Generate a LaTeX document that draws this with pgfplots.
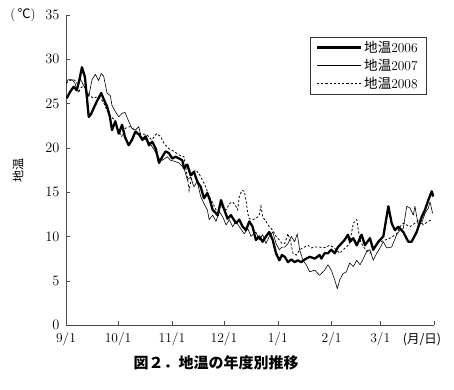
\documentclass[border=0pt]{standalone}
\usepackage{fontspec}
\usepackage{pgfplots}
\pgfplotsset{compat=1.18}
\newfontfamily\cjk{Noto Sans CJK JP}
\begin{document}
\begin{tikzpicture}
\begin{axis}[
  scale only axis, width=368pt, height=310pt,
  at={(0pt,0pt)}, anchor=south west,
  xmin=0, xmax=212, ymin=0, ymax=35,
  axis x line*=bottom, axis y line*=left,
  axis line style={-, black!70},
  tick align=inside, major tick length=4pt,
  tick style={black!70},
  xtick={0,30,61,91,122,153,181,212},
  xticklabels={9/1,10/1,11/1,12/1,1/1,2/1,3/1,},
  ytick={0,5,...,35},
  ticklabel style={font=\fontsize{13.5}{15}\selectfont},
  yticklabel style={xshift=-3pt},
  xticklabel style={yshift=-3.5pt},
  legend style={at={(0.978,0.929)}, anchor=north east, draw=black!80,
     font=\fontsize{13.5}{15}\selectfont, row sep=1pt,
     inner xsep=6pt, inner ysep=2pt},
  legend cell align=left,
  legend image code/.code={\draw[#1] (0pt,0pt) -- (44pt,0pt);},
]
\addplot[black, line width=2.3pt, line join=round] coordinates {
(0.4,25.6)(2.3,26.3)(4.4,26.9)(6.2,26.5)(7.5,27.5)(9.2,29.1)(10.9,28.0)(13.1,23.5)(14.4,23.8)(16.0,24.5)(17.9,25.3)(20.3,26.2)(21.9,25.4)(23.6,24.7)(25.3,23.5)(26.5,22.0)(28.4,23.0)(30.4,21.6)(32.3,22.6)(34.0,21.2)(36.1,20.3)(38.0,20.9)(39.9,21.8)(42.1,21.5)(44.0,20.9)(45.9,21.3)(47.8,20.3)(49.7,20.7)(51.7,19.9)(53.6,18.3)(55.5,19.0)(57.4,19.6)(59.3,19.4)(61.2,18.8)(63.2,19.0)(65.1,18.8)(67.0,18.6)(68.0,17.7)(69.9,18.1)(71.8,16.9)(73.7,17.3)(75.6,16.2)(77.6,15.6)(79.5,14.3)(81.4,14.9)(82.9,14.1)(84.5,13.0)(87.4,12.4)(89.3,14.1)(91.2,13.0)(93.1,12.0)(95.0,12.4)(97.9,11.5)(99.8,11.9)(101.8,11.1)(103.7,10.7)(105.6,11.7)(107.5,11.1)(109.4,9.6)(111.3,10.0)(113.3,9.4)(115.2,10.0)(117.1,10.5)(119.1,9.6)(121.0,8.1)(122.9,7.3)(124.4,7.9)(126.0,7.7)(127.9,7.1)(129.8,7.4)(131.7,7.1)(133.6,7.3)(135.5,7.1)(138.4,7.5)(140.4,7.7)(143.3,7.5)(146.1,7.9)(147.1,7.5)(149.0,8.1)(150.9,8.1)(152.8,8.5)(154.8,8.1)(156.7,8.8)(158.6,9.2)(160.5,9.6)(162.4,10.2)(163.6,9.4)(165.5,9.8)(167.5,9.0)(170.3,10.2)(172.2,9.0)(175.1,9.8)(177.0,8.5)(179.9,9.4)(182.8,10.0)(185.7,13.4)(187.6,11.5)(189.5,10.7)(191.4,11.1)(194.3,10.5)(197.2,9.4)(199.1,9.4)(202.0,10.5)(204.9,12.2)(206.8,13.0)(208.7,14.1)(210.7,15.1)(211.6,14.5)
};
\addlegendentry{{\cjk 地温}2006}
\addplot[black, line width=0.6pt, line join=round] coordinates {
(0,27.3)(1.2,27.7)(3.5,27.7)(5.2,27.3)(6.3,26.5)(8.2,27.8)(11.1,26.7)(13.1,25.8)(15.0,27.7)(16.9,28.3)(18.8,27.6)(20.3,28.4)(21.7,28.1)(23.6,26.2)(25.5,25.9)(26.5,24.8)(28.4,24.1)(30.4,23.5)(32.3,23.9)(34.0,24.0)(36.1,23.0)(38.0,22.2)(39.9,22.0)(41.9,22.4)(43.2,21.3)(44.9,21.0)(46.8,20.9)(48.7,20.4)(50.7,19.8)(53.6,18.8)(55.5,18.6)(58.4,19.0)(60.2,18.6)(62.2,18.5)(65.1,18.3)(68.0,17.7)(69.9,16.4)(71.8,16.7)(73.7,15.6)(75.6,16.2)(77.6,14.5)(79.5,13.7)(81.4,13.0)(82.5,11.9)(84.5,12.4)(86.4,11.7)(88.3,12.8)(90.3,12.2)(92.2,11.3)(94.1,11.9)(96.0,11.1)(97.9,11.7)(99.8,11.1)(102.7,10.3)(104.7,10.9)(106.6,10.0)(109.4,10.5)(111.3,9.6)(113.3,10.2)(115.2,9.2)(117.1,10.0)(119.1,10.5)(121.0,9.2)(122.9,8.5)(124.4,8.8)(126.0,8.8)(127.9,9.2)(129.8,10.0)(131.7,9.4)(133.2,10.3)(134.6,8.5)(136.5,7.3)(138.4,6.8)(140.4,6.0)(143.3,6.2)(146.1,5.6)(149.0,6.2)(150.9,6.8)(152.8,6.2)(154.8,5.1)(156.3,4.1)(157.7,5.1)(159.6,5.8)(161.5,6.0)(163.4,7.0)(165.5,6.6)(167.5,7.3)(169.4,6.8)(171.3,7.5)(173.2,8.3)(175.1,8.5)(177.0,7.3)(179.0,8.1)(180.9,8.7)(182.8,9.4)(184.7,8.7)(187.6,8.8)(190.5,10.2)(192.4,10.7)(194.3,10.9)(196.3,13.4)(198.2,13.2)(200.1,12.4)(201.0,13.4)(202.9,11.3)(204.9,11.5)(206.8,12.6)(208.7,13.2)(209.7,13.9)(211.2,12.6)
};
\addlegendentry{{\cjk 地温}2007}
\addplot[black, line width=0.8pt, dash pattern=on 2.2pt off 2pt] coordinates {
(0,27.3)(2.3,27.6)(4.2,27.7)(6.2,27.5)(7.1,26.2)(8.6,26.8)(10.4,27.0)(11.9,26.4)(13.8,25.9)(15.7,25.6)(18.6,25.8)(21.5,25.2)(23.4,24.3)(25.3,23.7)(27.6,23.2)(30.1,22.0)(32.1,21.3)(34.0,22.2)(36.9,22.4)(39.7,22.0)(42.6,21.6)(46.5,21.5)(49.4,20.9)(52.2,21.6)(54.5,21.3)(56.5,20.5)(59.3,19.9)(62.2,19.6)(65.1,19.2)(68.0,19.0)(69.9,16.7)(70.9,15.2)(72.8,17.1)(74.7,17.5)(76.6,17.1)(78.5,16.4)(80.5,15.6)(82.5,14.5)(84.5,13.8)(86.4,13.0)(89.3,13.4)(92.2,13.0)(94.1,13.7)(96.0,13.9)(97.9,13.4)(98.9,13.0)(99.8,14.5)(101.4,15.2)(102.7,15.1)(103.7,14.1)(104.7,12.6)(105.6,12.0)(107.5,11.9)(109.4,12.0)(111.3,12.4)(112.3,13.4)(113.3,12.2)(115.2,11.7)(117.1,11.1)(119.1,10.7)(121.0,10.0)(122.9,9.6)(124.4,9.2)(126.0,9.2)(127.9,10.3)(129.6,9.2)(130.8,8.1)(132.7,7.9)(134.6,8.5)(136.5,8.7)(139.4,9.0)(141.3,8.7)(143.3,8.8)(146.1,8.8)(148.0,8.7)(150.0,8.8)(151.9,9.0)(153.8,8.8)(155.7,8.5)(157.7,8.1)(159.6,8.5)(161.5,8.8)(163.4,9.2)(165.5,11.5)(167.5,11.9)(168.4,10.7)(169.4,9.6)(171.3,8.8)(175.1,8.1)(179.0,9.2)(182.6,9.5)(186.6,9.8)(190.5,10.3)(192.4,11.1)(194.3,11.5)(198.2,11.1)(201.0,11.5)(203.9,11.9)(205.8,11.3)(208.7,11.7)(210.7,11.9)
};
\addlegendentry{{\cjk 地温}2008}
\end{axis}
\node[anchor=east, font=\fontsize{13}{15}\selectfont] at (-27pt,310pt) {(\,{\cjk ℃})};
\node[rotate=90, font=\cjk\fontsize{12}{14}\selectfont] at (-48pt,155pt) {地温};
\node[font=\cjk\fontsize{12.5}{14}\selectfont] at (356pt,-15pt) {(月/日)};
\node[font=\cjk\bfseries\fontsize{15}{17}\selectfont] at (150pt,-38pt) {図２．地温の年度別推移};
\path[use as bounding box] (-66pt,-64pt) rectangle (388pt,325pt);
\end{tikzpicture}
\end{document}
